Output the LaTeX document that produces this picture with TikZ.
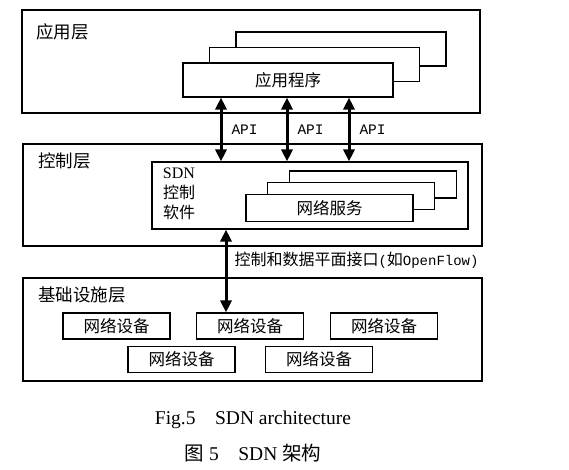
\documentclass[tikz,border=0pt]{standalone}
\usepackage{fontspec}
\setmainfont{Liberation Serif}
\newfontfamily\cjk{Noto Sans CJK SC}
\newfontfamily\halfw{Liberation Mono}
\usetikzlibrary{arrows.meta}
\begin{document}
\begin{tikzpicture}[x=1pt, y=-1pt,
    layer/.style={draw, line width=1.4pt, inner sep=0pt},
    box/.style={draw, fill=white, line width=1.1pt, inner sep=0pt, font=\cjk\fontsize{16.5}{19}\selectfont},
    title/.style={anchor=west, inner sep=0pt, font=\cjk\fontsize{17.5}{19}\selectfont},
    link/.style={line width=3pt, {Triangle[length=12pt,width=11pt]}-{Triangle[length=12pt,width=11pt]}},
    tag/.style={inner sep=0pt, font=\halfw\fontsize{14.5}{16}\selectfont}
  ]
  \useasboundingbox (0,0) rectangle (569,470);
  % application layer
  \node[layer, minimum width=458pt, minimum height=103pt] (app) at (251,61.5) {};
  \node[title] (apptitle) at (36,32) {应用层};
  \foreach \i in {2,1} {
    \node[box, minimum width=210pt, minimum height=34pt] at (288+26.5*\i,80-15.5*\i) {};
  }
  \node[box, minimum width=210pt, minimum height=34pt] (prog) at (288,80) {应用程序};
  % control layer
  \node[layer, minimum width=459pt, minimum height=102pt] (ctrl) at (252.5,195) {};
  \node[title] (ctrltitle) at (38,161) {控制层};
  \node[box, minimum width=316pt, minimum height=67pt] (sdn) at (310,195.5) {};
  \node[align=center, inner sep=0pt, font=\cjk\fontsize{16}{20}\selectfont] (sdntext) at (179,194)
    {{\rmfamily SDN}\\控制\\软件};
  \foreach \i in {2,1} {
    \node[box, minimum width=167pt, minimum height=27pt] at (329.5+21.75*\i,208-11.75*\i) {};
  }
  \node[box, minimum width=167pt, minimum height=27pt] (svc) at (329.5,208) {网络服务};
  % infrastructure layer
  \node[layer, minimum width=459pt, minimum height=103pt] (infra) at (252.5,329.5) {};
  \node[title] (infratitle) at (38,295) {基础设施层};
  \foreach \x/\y [count=\n] in {116.5/326, 250/326, 384/326, 181.5/359.5, 319/359.5} {
    \node[box, minimum width=107pt, minimum height=26pt] (dev\n) at (\x,\y) {网络设备};
  }
  % interfaces
  \foreach \x [count=\n] in {221,287,349} {
    \coordinate (api\n) at (\x,0);
    \draw[link] (prog.south -| api\n) -- node[tag, anchor=west, xshift=9pt] {API} (sdn.north -| api\n);
  }
  \coordinate (ifx) at (226,0);
  \draw[link] (sdn.south -| ifx) -- node[pos=0.37, anchor=west, xshift=7pt, inner sep=0pt, font=\cjk\fontsize{16}{18}\selectfont]
    {控制和数据平面接口{\halfw\fontsize{14}{16}\selectfont(}如{\halfw\fontsize{14}{16}\selectfont OpenFlow)}} (dev2.north -| ifx);
  % caption
  \node[font=\fontsize{19.5}{22}\selectfont] (capen) at (253,420) {Fig.5\quad SDN architecture};
  \node[font=\fontsize{19.5}{22}\selectfont] (capzh) at (253,453) {{\cjk 图} 5\quad SDN {\cjk 架构}};
\end{tikzpicture}
\end{document}
